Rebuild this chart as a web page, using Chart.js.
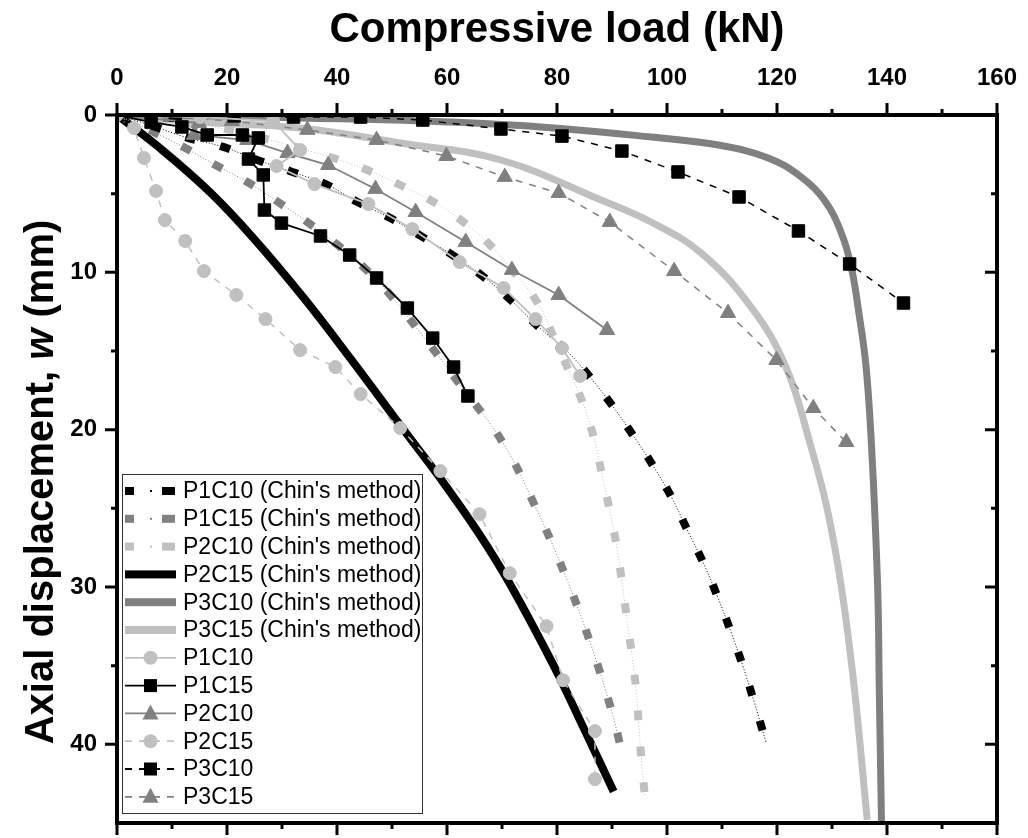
<!DOCTYPE html>
<html>
<head>
<meta charset="utf-8">
<script src="https://cdn.jsdelivr.net/npm/chart.js@4.4.0/dist/chart.umd.min.js"></script>
<style>
  html, body { margin: 0; padding: 0; background: #fff; }
  #wrap { width: 1028px; height: 838px; position: relative; }
</style>
</head>
<body>
<div id="wrap"><canvas id="chart"></canvas></div>
<script>
// Axis ticks
const xTickValues = [0, 20, 40, 60, 80, 100, 120, 140, 160];
const yTickValues = [0, 10, 20, 30, 40];

// Chin's method fits: [load kN, displacement mm]
const chinP1C10 = [[0,0],[6.0,0.64],[12.4,1.40],[19.3,2.03],[25.5,2.86],[31.9,3.62],[38.3,4.45],[43.7,5.53],[49.7,6.55],[55.6,7.76],[61.0,8.90],[66.7,10.30],[71.6,11.76],[76.7,13.48],[82.0,15.07],[86.0,16.66],[90.0,18.44],[93.8,20.34],[97.4,22.25],[100.9,24.35],[103.8,26.45],[106.7,28.54],[109.3,30.71],[111.7,32.93],[113.8,35.03],[115.8,37.25],[118.0,39.86]];
const chinP1C15 = [[0,0],[6.6,1.08],[12.4,2.10],[17.9,3.18],[23.7,4.26],[29.3,5.53],[34.6,6.80],[40.1,8.26],[44.8,9.66],[49.4,11.32],[55.2,13.86],[62.5,17.20],[70.1,20.79],[76.1,24.92],[81.4,29.18],[86.0,33.50],[90.0,37.95],[91.4,39.92]];
const chinP2C10 = [[0,0],[9.7,0.38],[18.8,0.83],[27.9,1.59],[39.3,2.73],[45.5,3.50],[51.5,4.45],[57.6,5.53],[63.0,6.80],[67.8,8.26],[72.3,10.04],[76.5,11.95],[79.4,14.11],[82.1,16.21],[84.7,18.31],[86.7,20.53],[88.2,22.89],[89.6,25.17],[90.9,27.46],[91.8,29.69],[92.7,31.98],[93.6,34.27],[94.4,36.55],[94.9,38.91],[95.4,41.20],[96.0,43.36]];
const chinP2C15 = [[0,0],[7.8,2.10],[16.9,4.90],[24.8,7.82],[33.9,11.60],[42.5,15.50],[52.1,20.00],[58.8,23.10],[65.8,26.60],[71.6,29.90],[79.4,35.00],[84.9,39.00],[90.3,43.00]];
const chinP3C10 = [[0,0],[16.4,0.06],[33.3,0.19],[55.2,0.38],[77.0,0.76],[97.1,1.40],[109.3,1.91],[118.4,2.73],[124.4,3.94],[128.6,5.40],[131.7,7.50],[133.5,9.66],[135.0,12.84],[136.2,16.02],[137.2,21.11],[138.3,30.0],[138.6,36.55],[139.0,45.0]];
const chinP3C15 = [[0,0],[15.1,0.45],[33.3,0.83],[51.5,1.78],[69.8,2.86],[88.0,5.40],[97.1,6.80],[106.2,8.77],[115.3,12.21],[121.6,16.0],[126.2,21.11],[129.1,25.0],[131.7,30.0],[134.1,36.55],[136.4,44.8]];

// Test results: [load kN, displacement mm]
const testP1C10 = [[0,0],[15.1,0.13],[28.4,0.38],[33.3,2.23],[29.0,3.24],[35.9,4.39],[45.7,5.66],[53.7,7.25],[62.3,9.35],[70.3,11.0],[76.1,12.97],[80.9,14.81],[84.2,16.59]];
const testP1C15 = [[0,0],[6.2,0.45],[11.8,0.76],[16.4,1.27],[22.8,1.27],[25.7,1.46],[23.9,2.80],[26.6,3.81],[26.8,6.04],[29.9,6.87],[37.0,7.69],[42.3,8.90],[47.2,10.36],[52.8,12.27],[57.4,14.18],[61.2,16.02],[63.8,17.86]];
const testP2C10 = [[0,0],[14.9,0.51],[14.0,1.27],[23.7,1.59],[31.0,2.42],[38.4,3.18],[47.0,4.70],[54.3,6.17],[63.4,8.07],[71.8,9.85],[80.3,11.44],[89.1,13.67]];
const testP2C15 = [[0,0],[3.1,0.83],[4.9,2.73],[7.1,4.83],[8.7,6.68],[12.4,8.01],[15.8,9.92],[21.7,11.44],[27.0,12.97],[33.3,14.94],[39.7,16.02],[44.3,17.74],[51.5,19.90],[58.8,22.63],[65.9,25.37],[71.4,29.12],[78.1,32.49],[81.1,35.92],[86.9,39.16],[86.9,42.21]];
const testP3C10 = [[0,0],[10.6,0],[21.3,0.06],[32.1,0.13],[44.3,0.13],[55.6,0.32],[69.8,0.89],[80.9,1.34],[91.8,2.29],[102.0,3.62],[113.1,5.21],[123.9,7.37],[133.2,9.47],[143.0,11.95]];
const testP3C15 = [[0,0],[9.7,0.13],[20.9,0.38],[34.6,0.95],[47.2,1.59],[59.9,2.61],[70.5,3.94],[80.3,4.96],[89.6,6.80],[101.3,9.92],[111.1,12.59],[119.9,15.58],[126.6,18.63],[132.6,20.79]];

const BLACK = '#000000';
const GRAY = '#808080';
const LIGHT = '#c0c0c0';
const FONT = "'Liberation Sans', Arial, sans-serif";

// legend rows, in display order
const series = [
  { label: "P1C10 (Chin's method)", data: chinP1C10, color: BLACK, kind: 'dashdot' },
  { label: "P1C15 (Chin's method)", data: chinP1C15, color: GRAY, kind: 'dashdot' },
  { label: "P2C10 (Chin's method)", data: chinP2C10, color: LIGHT, kind: 'dashdot' },
  { label: "P2C15 (Chin's method)", data: chinP2C15, color: BLACK, kind: 'thick' },
  { label: "P3C10 (Chin's method)", data: chinP3C10, color: GRAY, kind: 'thick' },
  { label: "P3C15 (Chin's method)", data: chinP3C15, color: LIGHT, kind: 'thick' },
  { label: 'P1C10', data: testP1C10, color: LIGHT, kind: 'solid', marker: 'circle' },
  { label: 'P1C15', data: testP1C15, color: BLACK, kind: 'solid', marker: 'rect' },
  { label: 'P2C10', data: testP2C10, color: GRAY, kind: 'solid', marker: 'triangle' },
  { label: 'P2C15', data: testP2C15, color: LIGHT, kind: 'dash', marker: 'circle' },
  { label: 'P3C10', data: testP3C10, color: BLACK, kind: 'dash', marker: 'rect' },
  { label: 'P3C15', data: testP3C15, color: GRAY, kind: 'dash', marker: 'triangle' }
];

const markerRadius = { circle: 6.5, rect: 8.8, triangle: 8.8 };

function toPoints(arr) {
  return arr.map(p => ({ x: p[0], y: p[1] }));
}

const datasets = [];
series.forEach(s => {
  const pts = toPoints(s.data);
  if (s.kind === 'dashdot') {
    datasets.push({
      data: pts, borderColor: s.color, borderWidth: 8, borderDash: [10, 26],
      borderCapStyle: 'butt', pointRadius: 0, tension: 0.4, order: 2
    });
    datasets.push({
      data: pts, borderColor: s.color, borderWidth: 1, borderDash: [1, 2],
      pointRadius: 0, tension: 0.4, order: 2
    });
  } else if (s.kind === 'thick') {
    datasets.push({
      data: pts, borderColor: s.color, borderWidth: s.color === BLACK ? 8 : 7,
      pointRadius: 0, tension: 0.4, order: 2
    });
  } else {
    datasets.push({
      data: pts, borderColor: s.color, borderWidth: s.kind === 'solid' ? 1.8 : 1.5,
      borderDash: s.kind === 'dash' ? [7, 7] : [],
      pointStyle: s.marker, pointRadius: markerRadius[s.marker],
      pointBackgroundColor: s.color, pointBorderColor: s.color, pointBorderWidth: 1,
      tension: 0, order: 0
    });
  }
});

function drawMarker(ctx, style, cx, cy, color) {
  ctx.fillStyle = color;
  ctx.beginPath();
  if (style === 'circle') {
    ctx.arc(cx, cy, 7, 0, Math.PI * 2);
  } else if (style === 'rect') {
    ctx.rect(cx - 6.5, cy - 6.5, 13, 13);
  } else {
    ctx.moveTo(cx, cy - 9);
    ctx.lineTo(cx + 8, cy + 6);
    ctx.lineTo(cx - 8, cy + 6);
    ctx.closePath();
  }
  ctx.fill();
}

// no extra room for first/last labels, keep the plot box fixed
function noPad(sc) {
  sc.paddingLeft = 0; sc.paddingRight = 0;
  sc.paddingTop = 0; sc.paddingBottom = 0;
}

const decorPlugin = {
  id: 'decor',
  afterDraw(chart) {
    const { ctx, chartArea: a, scales: { x, y } } = chart;
    ctx.save();

    // frame and ticks
    ctx.strokeStyle = BLACK;
    ctx.lineWidth = 4;
    ctx.strokeRect(a.left, a.top, a.right - a.left, a.bottom - a.top);
    ctx.lineWidth = 3;
    ctx.beginPath();
    for (let v = 0; v <= 160; v += 10) {
      const px = x.getPixelForValue(v);
      const len = v % 20 === 0 ? 12 : 6;
      ctx.moveTo(px, a.top); ctx.lineTo(px, a.top - len);
      ctx.moveTo(px, a.bottom); ctx.lineTo(px, a.bottom + len);
    }
    for (let v = 0; v < 45; v += 5) {
      const py = y.getPixelForValue(v);
      const len = v % 10 === 0 ? 12 : 6;
      ctx.moveTo(a.left, py); ctx.lineTo(a.left - len, py);
      ctx.moveTo(a.right, py); ctx.lineTo(a.right - len, py);
    }
    ctx.stroke();

    // axis titles
    ctx.fillStyle = BLACK;
    ctx.textAlign = 'center';
    ctx.textBaseline = 'middle';
    ctx.font = `bold 42px ${FONT}`;
    ctx.fillText('Compressive load (kN)', (a.left + a.right) / 2, 30);

    const parts = [
      ['Axial displacement, ', `bold 40px ${FONT}`],
      ['w', `italic bold 40px ${FONT}`],
      [' (mm)', `bold 40px ${FONT}`]
    ];
    let total = 0;
    parts.forEach(p => { ctx.font = p[1]; total += ctx.measureText(p[0]).width; });
    ctx.save();
    ctx.translate(42, (a.top + a.bottom) / 2 + 13);
    ctx.rotate(-Math.PI / 2);
    ctx.textAlign = 'left';
    let cx = -total / 2;
    parts.forEach(p => {
      ctx.font = p[1];
      ctx.fillText(p[0], cx, 0);
      cx += ctx.measureText(p[0]).width;
    });
    ctx.restore();

    // legend
    const lx = 122, ly = 474, lw = 300, lh = 339;
    ctx.fillStyle = '#fff';
    ctx.fillRect(lx, ly, lw, lh);
    ctx.lineWidth = 1;
    ctx.strokeStyle = '#333';
    ctx.strokeRect(lx + 0.5, ly + 0.5, lw, lh);
    ctx.font = `23px ${FONT}`;
    ctx.textAlign = 'left';
    ctx.textBaseline = 'middle';
    series.forEach((s, i) => {
      const ry = 491 + i * 27.8;
      const x0 = 125, x1 = 176, xm = 150;
      ctx.fillStyle = s.color;
      ctx.strokeStyle = s.color;
      if (s.kind === 'dashdot') {
        ctx.fillRect(x0, ry - 4, 9, 8);
        ctx.fillRect(162, ry - 4, 13, 8);
        ctx.fillRect(xm, ry - 1, 2, 2);
      } else if (s.kind === 'thick') {
        ctx.fillRect(x0, ry - 4, x1 - x0, 8);
      } else {
        ctx.lineWidth = 1.8;
        ctx.setLineDash(s.kind === 'dash' ? [7, 7] : []);
        ctx.beginPath();
        ctx.moveTo(x0, ry); ctx.lineTo(x1, ry);
        ctx.stroke();
        ctx.setLineDash([]);
        drawMarker(ctx, s.marker, xm + 0.5, ry, s.color);
      }
      ctx.fillStyle = BLACK;
      ctx.fillText(s.label, 183, ry + 1);
    });
    ctx.restore();
  }
};

new Chart(document.getElementById('chart'), {
  type: 'line',
  data: { datasets },
  options: {
    responsive: true,
    maintainAspectRatio: false,
    animation: false,
    layout: { padding: { left: 0, right: 31, top: 0, bottom: 15 } },
    plugins: { legend: { display: false }, tooltip: { enabled: false } },
    scales: {
      x: {
        type: 'linear', position: 'top', min: 0, max: 160,
        grid: { display: false, drawTicks: false },
        border: { display: false },
        afterBuildTicks: sc => { sc.ticks = xTickValues.map(v => ({ value: v })); },
        afterFit: sc => { sc.height = 115; noPad(sc); },
        ticks: { color: BLACK, padding: 22, maxRotation: 0, font: { family: FONT, size: 24, weight: 'bold' } }
      },
      y: {
        type: 'linear', reverse: true, min: 0, max: 45,
        grid: { display: false, drawTicks: false },
        border: { display: false },
        afterBuildTicks: sc => { sc.ticks = yTickValues.map(v => ({ value: v })); },
        afterFit: sc => { sc.width = 117; noPad(sc); },
        ticks: { color: BLACK, padding: 20, font: { family: FONT, size: 24, weight: 'bold' } }
      }
    }
  },
  plugins: [decorPlugin]
});
</script>
</body>
</html>
